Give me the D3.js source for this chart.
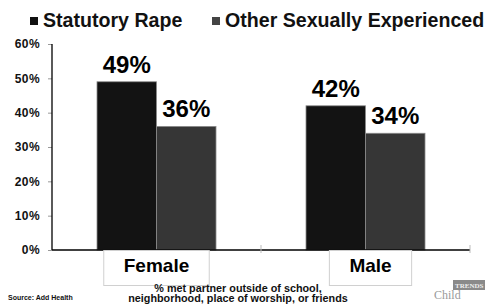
<!DOCTYPE html>
<html>
<head>
<meta charset="utf-8">
<script src="https://cdn.jsdelivr.net/npm/d3@7"></script>
<style>
  body { margin: 0; background: #fff; }
  text { font-family: "Liberation Sans", Arial, sans-serif; font-weight: bold; }
</style>
</head>
<body>
<div id="chart"></div>
<script>
// data
var categories = ["Female", "Male"];
var seriesNames = ["Statutory Rape", "Other Sexually Experienced"];
var statutoryRape = [0.49, 0.42];
var otherExperienced = [0.36, 0.34];
var yTicks = [0, 0.1, 0.2, 0.3, 0.4, 0.5, 0.6];

var svgWidth = 485;
var svgHeight = 305;
var colors = ["#131313", "#363636"];

var svg = d3.select("#chart")
  .append("svg")
  .attr("width", svgWidth)
  .attr("height", svgHeight);

// scales
var xScale = d3.scaleBand()
  .domain(categories)
  .range([52, 470]);

var xSub = d3.scaleBand()
  .domain(seriesNames)
  .range([45, 164]);

var yScale = d3.scaleLinear()
  .domain([0, 0.6])
  .range([250, 44]);

var data = categories.map(function(c, i) {
  return {
    category: c,
    values: [
      { series: seriesNames[0], value: statutoryRape[i] },
      { series: seriesNames[1], value: otherExperienced[i] }
    ]
  };
});

// y axis
var leftAxis = d3.axisLeft(yScale)
  .tickValues(yTicks)
  .tickFormat(d3.format(".0%"))
  .tickSize(4)
  .tickPadding(8);

var yAxis = svg.append("g")
  .attr("transform", "translate(52,0)")
  .call(leftAxis);
yAxis.select(".domain").remove();
yAxis.selectAll("line").attr("stroke", "#999");
yAxis.selectAll("text")
  .attr("font-size", "12px")
  .attr("letter-spacing", "0.4px")
  .attr("fill", "#111")
  .style("font-family", "'Liberation Sans', Arial, sans-serif")
  .style("font-weight", "bold");

svg.append("line")
  .attr("x1", 52).attr("x2", 52)
  .attr("y1", yScale(0.6)).attr("y2", yScale(0))
  .attr("stroke", "#000")
  .attr("stroke-width", 1.3);

// bars
var groups = svg.selectAll(".group")
  .data(data)
  .enter()
  .append("g")
  .attr("class", "group")
  .attr("transform", function(d) { return "translate(" + xScale(d.category) + ",0)"; });

groups.selectAll("rect")
  .data(function(d) { return d.values; })
  .enter()
  .append("rect")
  .attr("x", function(d) { return xSub(d.series); })
  .attr("width", xSub.bandwidth())
  .attr("y", function(d) { return yScale(d.value); })
  .attr("height", function(d) { return yScale(0) - yScale(d.value); })
  .attr("fill", function(d, i) { return colors[i]; })
  .attr("stroke", "#8a8a8a")
  .attr("stroke-width", 0.8);

groups.selectAll(".val")
  .data(function(d) { return d.values; })
  .enter()
  .append("text")
  .attr("class", "val")
  .attr("x", function(d) { return xSub(d.series) + xSub.bandwidth() / 2; })
  .attr("y", function(d) { return yScale(d.value) - 9; })
  .attr("text-anchor", "middle")
  .attr("font-size", "24px")
  .attr("fill", "#000")
  .text(function(d) { return Math.round(d.value * 100) + "%"; });

// x axis line and category separators
svg.append("line")
  .attr("x1", 52).attr("x2", 470)
  .attr("y1", yScale(0)).attr("y2", yScale(0))
  .attr("stroke", "#000")
  .attr("stroke-width", 1.5);

svg.selectAll(".sep")
  .data(categories)
  .enter()
  .append("line")
  .attr("class", "sep")
  .attr("x1", function(d) { return xScale(d) + xScale.bandwidth(); })
  .attr("x2", function(d) { return xScale(d) + xScale.bandwidth(); })
  .attr("y1", yScale(0) - 5)
  .attr("y2", yScale(0) + 3)
  .attr("stroke", "#bbb");

// category labels in boxes
var catOffset = [0, 5];
var catLabels = svg.selectAll(".cat")
  .data(categories)
  .enter()
  .append("g")
  .attr("class", "cat");

catLabels.append("text")
  .attr("x", function(d, i) { return xScale(d) + xScale.bandwidth() / 2 + catOffset[i]; })
  .attr("y", 272)
  .attr("text-anchor", "middle")
  .attr("font-size", "19px")
  .attr("fill", "#000")
  .text(function(d) { return d; });

catLabels.each(function() {
  var g = d3.select(this);
  var bb = g.select("text").node().getBBox();
  g.insert("rect", "text")
    .attr("x", bb.x - 20)
    .attr("y", yScale(0) + 0.5)
    .attr("width", bb.width + 40)
    .attr("height", 35)
    .attr("fill", "#fff")
    .attr("stroke", "#d0d0d0");
});

// axis title
var xTitle = svg.append("text")
  .attr("x", 238)
  .attr("y", 291.5)
  .attr("text-anchor", "middle")
  .attr("font-size", "10.8px")
  .attr("fill", "#111");
xTitle.append("tspan").attr("x", 238).text("% met partner outside of school,");
xTitle.append("tspan").attr("x", 238).attr("dy", 10.5).text("neighborhood, place of worship, or friends");

// legend
var legendX = [30, 212];
var legend = svg.selectAll(".legend")
  .data(seriesNames)
  .enter()
  .append("g")
  .attr("class", "legend")
  .attr("transform", function(d, i) { return "translate(" + legendX[i] + ",0)"; });

legend.append("rect")
  .attr("x", 0).attr("y", 17)
  .attr("width", 8).attr("height", 8)
  .attr("fill", function(d, i) { return i === 0 ? "#111" : "#444"; });

legend.append("text")
  .attr("x", 13)
  .attr("y", 27)
  .attr("font-size", "19.6px")
  .attr("fill", "#111")
  .text(function(d) { return d; });

// source
svg.append("text")
  .attr("x", 8)
  .attr("y", 300)
  .attr("font-size", "7px")
  .attr("fill", "#111")
  .text("Source: Add Health");

// logo
svg.append("rect")
  .attr("x", 453).attr("y", 280)
  .attr("width", 32).attr("height", 10)
  .attr("fill", "#8a8a8a");
svg.append("text")
  .attr("x", 455).attr("y", 288)
  .attr("font-size", "7px")
  .style("font-family", "'Liberation Serif', serif")
  .attr("fill", "#eee")
  .text("TRENDS");
svg.append("text")
  .attr("x", 434).attr("y", 299)
  .attr("font-size", "12px")
  .style("font-family", "'Liberation Serif', serif")
  .style("font-weight", "normal")
  .attr("fill", "#999")
  .text("Child");
</script>
</body>
</html>
